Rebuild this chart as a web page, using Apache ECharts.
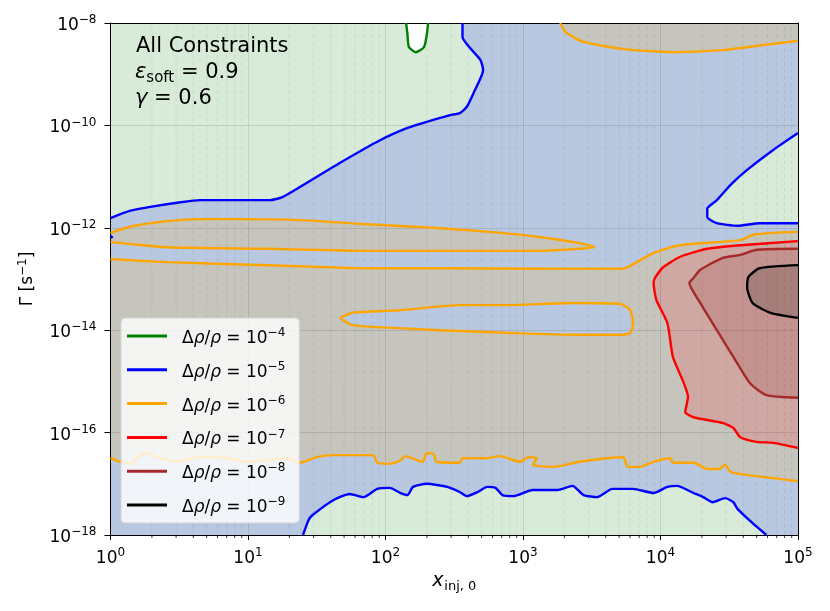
<!DOCTYPE html>
<html><head><meta charset="utf-8">
<script src="https://cdn.jsdelivr.net/npm/echarts@6/dist/echarts.min.js"></script>
<style>html,body{margin:0;padding:0;background:#fff}#c{width:830px;height:611px}</style>
</head><body><div id="c"></div>
<script>
// Axis ranges (log10 exponents)
const xExpTicks = [0, 1, 2, 3, 4, 5];
const yExpTicks = [-18, -16, -14, -12, -10, -8];
const levelExps = [-4, -5, -6, -7, -8, -9];
const levelColors = ['#008000', '#0000ff', '#ffa500', '#ff0000', '#a52a2a', '#000000'];

// Contours: [log10 x_inj0, log10 Gamma]
const c4_loop = [[2.15,-8],[2.16,-8.23],[2.17,-8.47],[2.22,-8.57],[2.28,-8.47],[2.30,-8.23],[2.31,-8]];
const c5_upper = [[0,-11.81],[0.14,-11.67],[0.29,-11.59],[0.51,-11.50],[0.65,-11.46],[0.94,-11.46],[1.16,-11.46],[1.25,-11.40],[1.38,-11.20],[1.67,-10.73],[1.96,-10.29],[2.16,-10.05],[2.30,-9.93],[2.47,-9.80],[2.54,-9.76],[2.59,-9.64],[2.64,-9.37],[2.71,-8.92],[2.69,-8.72],[2.56,-8.27],[2.56,-8.00]];
const c5_right = [[5,-10.15],[4.82,-10.48],[4.63,-10.87],[4.51,-11.16],[4.41,-11.46],[4.34,-11.63],[4.34,-11.79],[4.41,-11.91],[4.56,-11.96],[4.72,-11.91],[5,-11.91]];
const c5_dot = [[0,-12.15],[0.015,-12.2]];
const c5_bottom = [[1.40,-18],[1.44,-17.71],[1.47,-17.61],[1.62,-17.32],[1.74,-17.20],[1.84,-17.26],[1.94,-17.10],[2.03,-17.08],[2.11,-17.18],[2.16,-17.22],[2.20,-17.06],[2.30,-17.00],[2.45,-17.06],[2.54,-17.16],[2.59,-17.24],[2.67,-17.16],[2.74,-17.06],[2.80,-17.08],[2.85,-17.22],[2.93,-17.24],[3.07,-17.12],[3.25,-17.12],[3.36,-17.04],[3.44,-17.22],[3.54,-17.26],[3.65,-17.10],[3.80,-17.10],[3.95,-17.18],[4.05,-17.06],[4.12,-17.04],[4.24,-17.18],[4.31,-17.26],[4.38,-17.36],[4.47,-17.28],[4.53,-17.36],[4.56,-17.49],[4.67,-17.77],[4.77,-18]];
const c6_top = [[3.27,-8],[3.31,-8.18],[3.44,-8.37],[3.73,-8.51],[4.09,-8.57],[4.45,-8.53],[4.75,-8.43],[5,-8.35]];
const c6_tongue = [[0,-12.10],[0.14,-11.98],[0.41,-11.87],[0.65,-11.83],[0.94,-11.83],[1.38,-11.85],[1.87,-11.93],[2.35,-12.00],[2.76,-12.08],[3.12,-12.18],[3.41,-12.30],[3.52,-12.38],[3.41,-12.41],[3.12,-12.45],[2.76,-12.45],[1.87,-12.45],[1.14,-12.41],[0.41,-12.38],[0,-12.28]];
const c6_upper = [[0,-12.61],[0.41,-12.67],[1.14,-12.73],[1.87,-12.79],[2.40,-12.79],[3.12,-12.80],[3.71,-12.80],[3.76,-12.77],[3.95,-12.49],[4.14,-12.34],[4.58,-12.24],[4.67,-12.14],[4.82,-12.10],[5,-12.08]];
const c6_loop = [[1.67,-13.76],[1.76,-13.66],[2.11,-13.61],[2.54,-13.51],[2.88,-13.51],[3.36,-13.47],[3.71,-13.49],[3.78,-13.61],[3.80,-13.86],[3.78,-14.05],[3.71,-14.09],[3.36,-14.09],[2.88,-14.05],[2.40,-14.00],[2.11,-13.96],[1.76,-13.90],[1.67,-13.76]];
const c6_lower = [[0,-16.50],[0.07,-16.57],[0.16,-16.61],[0.19,-16.50],[0.27,-16.40],[0.34,-16.48],[0.48,-16.57],[0.65,-16.48],[0.85,-16.50],[0.99,-16.57],[1.14,-16.54],[1.28,-16.50],[1.38,-16.59],[1.50,-16.48],[1.62,-16.44],[1.91,-16.44],[1.94,-16.59],[2.03,-16.61],[2.11,-16.54],[2.14,-16.46],[2.19,-16.50],[2.27,-16.57],[2.30,-16.40],[2.35,-16.42],[2.37,-16.57],[2.54,-16.59],[2.56,-16.50],[2.74,-16.50],[2.83,-16.46],[2.98,-16.57],[3.04,-16.48],[3.10,-16.50],[3.07,-16.63],[3.22,-16.67],[3.41,-16.57],[3.61,-16.50],[3.73,-16.48],[3.76,-16.67],[3.85,-16.67],[3.95,-16.57],[4.07,-16.50],[4.09,-16.59],[4.24,-16.59],[4.34,-16.71],[4.43,-16.71],[4.47,-16.63],[4.51,-16.77],[4.58,-16.81],[4.82,-16.89],[5,-16.95]];
const c7 = [[5,-12.26],[4.58,-12.34],[4.34,-12.41],[4.14,-12.57],[4.02,-12.77],[3.96,-12.98],[3.95,-13.08],[3.97,-13.41],[4.05,-13.86],[4.09,-14.52],[4.16,-14.97],[4.20,-15.30],[4.18,-15.60],[4.24,-15.70],[4.45,-15.81],[4.53,-15.91],[4.58,-16.09],[4.70,-16.18],[4.82,-16.20],[5,-16.30]];
const c8 = [[5,-12.41],[4.70,-12.43],[4.58,-12.53],[4.45,-12.59],[4.29,-12.82],[4.24,-12.98],[4.21,-13.08],[4.29,-13.47],[4.41,-14.00],[4.53,-14.52],[4.65,-15.03],[4.77,-15.27],[5,-15.32]];
const c9 = [[5,-12.73],[4.72,-12.79],[4.64,-12.96],[4.63,-13.16],[4.67,-13.47],[4.80,-13.66],[5,-13.76]];

const fillColors = {green:'#d8ead8', blue:'#b8c8e0', grey:'#c5c5bd', red:'#cfa8a3', brown:'#c4938f', dark:'#a67f7b', white:'#ffffff'};

const X0 = xExpTicks[0], X1 = xExpTicks[xExpTicks.length-1];
const Y0 = yExpTicks[0], Y1 = yExpTicks[yExpTicks.length-1];
const rev = a => a.slice().reverse();

const fills = [
  {pts: [...c5_upper, [X1,Y1], ...c5_right, [X1,Y0], ...rev(c5_bottom), [X0,Y0]], color: fillColors.blue},
  {pts: [...c6_top, [X1,Y1]], color: fillColors.grey},
  {pts: c6_tongue, color: fillColors.grey},
  {pts: [...c6_upper, ...rev(c6_lower)], color: fillColors.grey},
  {pts: c6_loop, color: fillColors.blue},
  {pts: c7, color: fillColors.red},
  {pts: c8, color: fillColors.brown},
  {pts: c9, color: fillColors.dark},
  {pts: c4_loop, color: fillColors.white}
];

const contourSets = [
  [0, [c4_loop]],
  [1, [c5_upper, c5_right, c5_bottom, c5_dot]],
  [2, [c6_top, c6_tongue, c6_upper, c6_loop, c6_lower]],
  [3, [c7]],
  [4, [c8]],
  [5, [c9]]
];

const minorX = [];
for (let n = X0; n < X1; n++) for (let k = 2; k <= 9; k++) minorX.push([n + Math.log10(k), Y0]);

const FONT = 'DejaVu Sans';
const levelName = i => 'Δρ/ρ = 10^' + levelExps[i];

const series = [];
fills.forEach(f => {
  series.push({
    type: 'custom', z: 1, silent: true, clip: true,
    data: [[X0, Y0]], encode: {x: 0, y: 1},
    renderItem: (params, api) => ({
      type: 'polygon',
      shape: {points: f.pts.map(p => api.coord(p))},
      style: {fill: f.color, stroke: null}
    })
  });
});
series.push({
  type: 'custom', z: 3, silent: true, clip: false,
  data: minorX, encode: {x: 0, y: 1},
  renderItem: (params, api) => {
    const x = api.value(0);
    const p0 = api.coord([x, Y0]);
    const p1 = api.coord([x, Y1]);
    return {type: 'group', children: [
      {type: 'line', shape: {x1: p0[0], y1: p0[1], x2: p1[0], y2: p1[1]}, style: {stroke: 'rgba(0,0,0,0.09)', lineWidth: 0.8, lineDash: [4, 3]}},
      {type: 'line', shape: {x1: p0[0], y1: p0[1], x2: p0[0], y2: p0[1] + 3}, style: {stroke: '#000', lineWidth: 0.8}}
    ]};
  }
});
contourSets.forEach(([li, arrs]) => {
  arrs.forEach(arr => {
    series.push({
      type: 'line', name: levelName(li), z: 5, data: arr,
      showSymbol: false, symbol: 'none', smooth: 0.2,
      lineStyle: {color: levelColors[li], width: 2.4},
      itemStyle: {color: levelColors[li]},
      silent: true, animation: false
    });
  });
});

const supRich = {
  b: {fontSize: 17, fontFamily: FONT, color: '#000', padding: [5, 0, 0, 0], lineHeight: 18},
  s: {fontSize: 12, fontFamily: FONT, color: '#000', verticalAlign: 'top', lineHeight: 12}
};

const chart = echarts.init(document.getElementById('c'), null, {renderer: 'canvas'});
chart.setOption({
  animation: false,
  backgroundColor: '#fff',
  grid: {left: 110.5, right: 32, top: 23, bottom: 76, show: true, backgroundColor: fillColors.green, borderWidth: 0},
  xAxis: [{
    type: 'value', min: X0, max: X1, interval: 1, z: 3,
    axisLine: {show: true, onZero: false, lineStyle: {color: '#000', width: 1}},
    axisTick: {show: true, length: 5, lineStyle: {color: '#000'}},
    splitLine: {show: true, lineStyle: {color: 'rgba(0,0,0,0.1)', width: 1}},
    axisLabel: {margin: 12, formatter: v => '{b|10}{s|' + v + '}', rich: supRich},
    name: '{i|x}{sub|inj, 0}', nameLocation: 'middle', nameGap: 38,
    nameTextStyle: {rich: {
      i: {fontSize: 19, fontStyle: 'italic', fontFamily: FONT, color: '#000', padding: [0, 1, 4, 0], lineHeight: 20},
      sub: {fontSize: 13, fontFamily: FONT, color: '#000', verticalAlign: 'bottom', lineHeight: 14}
    }}
  }, {
    type: 'value', min: X0, max: X1, position: 'top', z: 3,
    axisLine: {show: true, onZero: false, lineStyle: {color: '#000', width: 1}},
    axisTick: {show: false}, axisLabel: {show: false}, splitLine: {show: false}
  }],
  yAxis: [{
    type: 'value', min: Y0, max: Y1, interval: 2, z: 3,
    axisLine: {show: true, onZero: false, lineStyle: {color: '#000', width: 1}},
    axisTick: {show: true, length: 6, lineStyle: {color: '#000'}},
    splitLine: {show: true, lineStyle: {color: 'rgba(0,0,0,0.1)', width: 1}},
    axisLabel: {margin: 14, formatter: v => '{b|10}{s|\u2212' + (-v) + '}', rich: supRich},
    name: '{g|Γ [s}{s|\u22121}{g|]}', nameLocation: 'middle', nameGap: 76,
    nameTextStyle: {rich: {
      g: {fontSize: 17, fontFamily: FONT, color: '#000', padding: [5, 0, 0, 0], lineHeight: 18},
      s: {fontSize: 12, fontFamily: FONT, color: '#000', verticalAlign: 'top', lineHeight: 12}
    }}
  }, {
    type: 'value', min: Y0, max: Y1, position: 'right', z: 3,
    axisLine: {show: true, onZero: false, lineStyle: {color: '#000', width: 1}},
    axisTick: {show: false}, axisLabel: {show: false}, splitLine: {show: false}
  }],
  legend: {
    orient: 'vertical', left: 121, top: 318, z: 10,
    data: levelExps.map((e, i) => ({name: levelName(i), icon: 'rect'})),
    itemWidth: 40, itemHeight: 3, itemGap: 11.8,
    padding: [7, 8, 7, 6],
    backgroundColor: 'rgba(255,255,255,0.8)', borderColor: '#d4d4d4', borderWidth: 1, borderRadius: 4,
    selectedMode: false,
    formatter: name => {
      const e = name.split('^')[1].replace('-', '\u2212');
      return '{D|Δ}{r|ρ}{d|/}{r|ρ}{d| = 10}{s|' + e + '}';
    },
    textStyle: {
      rich: {
        D: {fontSize: 17, fontFamily: FONT, color: '#000', padding: [5, 0, 0, 10], lineHeight: 18},
        d: {fontSize: 17, fontFamily: FONT, color: '#000', padding: [5, 0, 0, 0], lineHeight: 18},
        r: {fontSize: 17, fontFamily: FONT, fontStyle: 'italic', color: '#000', padding: [5, 0, 0, 0], lineHeight: 18},
        s: {fontSize: 12, fontFamily: FONT, color: '#000', verticalAlign: 'top', lineHeight: 12, padding: [0, 6, 0, 0]}
      }
    }
  },
  graphic: [
    {type: 'text', x: 136, y: 47, z: 20, style: {text: 'All Constraints', fontSize: 21, fontFamily: FONT, fill: '#000', verticalAlign: 'middle'}},
    {type: 'text', x: 135, y: 75, z: 20, style: {
      text: '{e|ε}{sub|soft}{t| = 0.9}', verticalAlign: 'middle',
      rich: {
        e: {fontSize: 21, fontStyle: 'italic', fontFamily: FONT, fill: '#000', padding: [0, 0, 5, 0], lineHeight: 22},
        sub: {fontSize: 15, fontFamily: FONT, fill: '#000', verticalAlign: 'bottom', lineHeight: 15},
        t: {fontSize: 21, fontFamily: FONT, fill: '#000', padding: [0, 0, 5, 0], lineHeight: 22}
      }}},
    {type: 'text', x: 135, y: 99, z: 20, style: {
      text: '{e|γ}{t| = 0.6}', verticalAlign: 'middle',
      rich: {
        e: {fontSize: 21, fontStyle: 'italic', fontFamily: FONT, fill: '#000', lineHeight: 22},
        t: {fontSize: 21, fontFamily: FONT, fill: '#000', lineHeight: 22}
      }}}
  ],
  series: series
});
</script></body></html>
